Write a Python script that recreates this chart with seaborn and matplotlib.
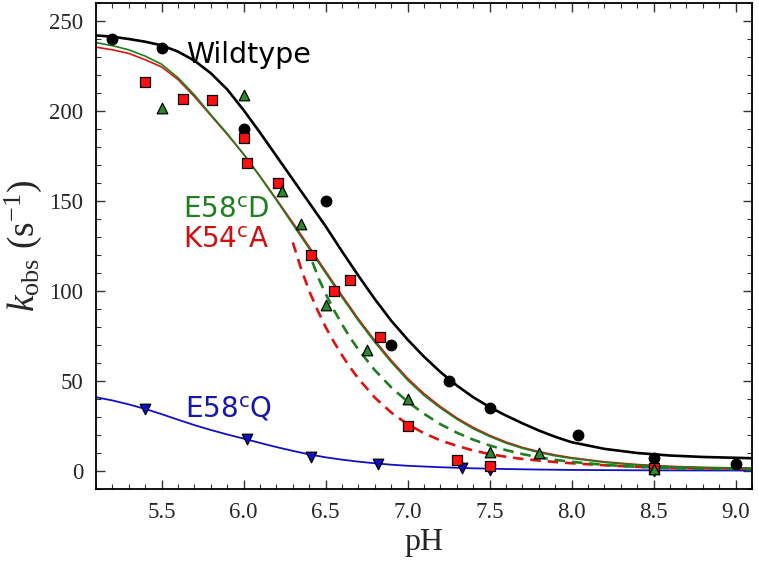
import pandas as pd
import matplotlib
matplotlib.use("Agg")
import matplotlib.pyplot as plt
import seaborn as sns
from matplotlib.ticker import MultipleLocator

# measured rate constants (pH, k_obs in s^-1)
wt_ph = [5.2, 5.5, 6.0, 6.5, 6.9, 7.25, 7.5, 8.04, 8.5, 9.0]
wt_k = [240, 235, 190, 150, 70, 50, 35, 20, 7, 4]

k54a_ph = [5.4, 5.63, 5.81, 6.0, 6.02, 6.21, 6.41, 6.55, 6.65, 6.83, 7.0, 7.3, 7.5, 8.5]
k54a_k = [216, 206.5, 206, 185, 171, 160, 120, 100, 106, 74.5, 25, 6, 3, 1.5]

e58d_ph = [5.5, 6.0, 6.235, 6.35, 6.5, 6.75, 7.0, 7.5, 7.8, 8.5]
e58d_k = [201.5, 209, 155.5, 137, 92.5, 67, 40, 10.5, 10, 1]

e58q_ph = [5.4, 6.02, 6.41, 6.82, 7.33, 7.5, 8.5]
e58q_k = [34.5, 18, 8, 4, 1.5, 0.5, 0]

# fitted curves
fit_ph = [5.1, 5.2, 5.3, 5.4, 5.5, 5.6, 5.7, 5.8, 5.9, 6.0,
          6.1, 6.2, 6.3, 6.4, 6.5, 6.6, 6.7, 6.8, 6.9, 7.0,
          7.1, 7.2, 7.3, 7.4, 7.5, 7.6, 7.7, 7.8, 7.9, 8.0,
          8.2, 8.4, 8.6, 8.8, 9.1]
wt_fit = [242, 241.3, 240, 238.5, 236.5, 233, 228, 221, 212, 200.5,
          188, 175, 162, 149, 136, 122, 108.5, 95.5, 83.5, 73,
          63.5, 55, 47.5, 41, 35.5, 30.8, 26.5, 22.5, 19, 16,
          12.3, 10, 8.6, 7.8, 7.1]
e58d_fit = [238, 236.3, 234, 230.5, 226, 218.5, 209, 198, 187.5, 176,
            163.5, 150.5, 137, 123.5, 110, 96.5, 83.5, 71.5, 60.5, 50.5,
            42, 35, 28.8, 23.5, 19.2, 15.5, 12.6, 10.3, 8.4, 7,
            4.8, 3.3, 2.4, 1.9, 1.5]
k54a_fit = [235.5, 234, 232, 228.5, 224.5, 217.5, 208, 197.5, 187, 176,
            163.8, 151, 138, 124.5, 111, 97.5, 84.5, 72.5, 61.5, 51.5,
            43, 35.8, 29.5, 24.2, 19.8, 16.1, 13.1, 10.8, 8.9, 7.4,
            5.1, 3.6, 2.6, 2.0, 1.6]
e58q_fit = [41, 39.2, 37, 34.5, 31.6, 28.5, 25.5, 22.8, 20.3, 18,
            15.6, 13.3, 11.2, 9.2, 7.6, 6.3, 5.2, 4.3, 3.5, 2.9,
            2.5, 2.1, 1.8, 1.5, 1.3, 1.1, 0.95, 0.8, 0.7, 0.6,
            0.5, 0.4, 0.35, 0.3, 0.25]

k54a_dash_ph = [6.3, 6.35, 6.4, 6.45, 6.5, 6.55, 6.6, 6.65, 6.7, 6.8, 6.9,
                7.0, 7.1, 7.2, 7.3, 7.4, 7.5, 7.6, 7.7, 7.8, 7.9, 8.0,
                8.2, 8.4, 8.6, 8.8, 9.1]
k54a_dash = [127, 112.5, 100, 89.5, 80, 71.8, 64.3, 57.5, 51.3, 40.8, 32.5,
             26, 21, 17, 14, 11.4, 9.4, 7.9, 6.7, 5.8, 5, 4.3,
             3.2, 2.3, 1.8, 1.5, 1.3]
e58d_dash_ph = [6.42, 6.46, 6.5, 6.55, 6.6, 6.65, 6.7, 6.8, 6.9,
                7.0, 7.1, 7.2, 7.3, 7.4, 7.5, 7.6, 7.7, 7.8, 7.9, 8.0,
                8.2, 8.4, 8.6, 8.8, 9.1]
e58d_dash = [116, 106.5, 98.5, 89.5, 81.5, 74, 67.5, 56, 46.5,
             38.5, 31.8, 26, 21.3, 17.4, 14.2, 11.6, 9.4, 7.6, 6.2, 5.1,
             3.4, 2.3, 1.6, 1.2, 1.0]

BLACK = "black"
GREEN = "#1d7f1d"
RED = "#e01010"
BLUE = "#1010c8"


def curve(ax, x, y, color, lw, dash=None):
    sns.lineplot(x=x, y=y, ax=ax, color=color, linewidth=lw, estimator=None,
                 sort=True, zorder=2)
    if dash is not None:
        ax.lines[-1].set_dashes(dash)


def points(ax, x, y, marker, color, s):
    sns.scatterplot(x=x, y=y, ax=ax, marker=marker, color=color, s=s,
                    edgecolor="black", linewidth=0.9, zorder=5)


def main():
    sns.set_theme(style="ticks")
    plt.rcParams["font.family"] = ["DejaVu Sans"]
    plt.rcParams["mathtext.fontset"] = "custom"
    plt.rcParams["mathtext.rm"] = "Liberation Serif"
    plt.rcParams["mathtext.it"] = "Liberation Serif:italic"
    plt.rcParams["mathtext.sf"] = "DejaVu Sans"

    fig = plt.figure(figsize=(7.59, 5.70), dpi=100)
    ax = fig.add_axes([0.1265, 0.1421, 0.8643, 0.8526])

    curve(ax, fit_ph, e58q_fit, BLUE, 1.3)
    curve(ax, k54a_dash_ph, k54a_dash, RED, 1.9, dash=(4, 2.6))
    curve(ax, e58d_dash_ph, e58d_dash, GREEN, 1.9, dash=(4, 2.6))
    curve(ax, fit_ph, k54a_fit, RED, 1.2)
    curve(ax, fit_ph, e58d_fit, GREEN, 1.2)
    curve(ax, fit_ph, wt_fit, BLACK, 1.9)

    points(ax, e58q_ph, e58q_k, "v", BLUE, 58)
    points(ax, wt_ph, wt_k, "o", BLACK, 58)
    points(ax, k54a_ph, k54a_k, "s", "#ff1010", 52)
    points(ax, e58d_ph, e58d_k, "^", "#2a8a2a", 58)

    ax.set_xlim(5.1, 9.1)
    ax.set_ylim(-10, 260)
    ax.xaxis.set_minor_locator(MultipleLocator(0.1))
    ax.yaxis.set_major_locator(MultipleLocator(50))
    ax.yaxis.set_minor_locator(MultipleLocator(10))
    ax.set_xticks([5.5, 6.0, 6.5, 7.0, 7.5, 8.0, 8.5, 9.0])
    ax.set_xticklabels(["5.5", "6.0", "6.5", "7.0", "7.5", "8.0", "8.5", "9.0"])

    ax.tick_params(which="both", direction="in", top=True, right=True,
                   color="#333333")
    ax.tick_params(which="major", length=6.5, width=1.0, labelsize=16.5, pad=9)
    ax.tick_params(which="minor", length=3.5, width=0.8)
    for lab in ax.get_xticklabels() + ax.get_yticklabels():
        lab.set_fontfamily("Liberation Serif")
    for sp in ax.spines.values():
        sp.set_linewidth(1.3)
        sp.set_color("black")

    ax.set_xlabel("pH", fontsize=23, family="Liberation Serif", labelpad=4)
    ax.set_ylabel(r"$k_{\mathrm{obs}}$ (s$^{-1}$)", fontsize=27,
                  family="Liberation Serif", labelpad=4)

    ax.text(5.647, 226.8, "Wildtype", color="black", fontsize=20.5)
    ax.text(5.632, 141.3, r"E58$^{\mathsf{c}}$D", color=GREEN, fontsize=20)
    ax.text(5.632, 124.6, r"K54$^{\mathsf{c}}$A", color="#d01010", fontsize=20)
    ax.text(5.64, 30.2, r"E58$^{\mathsf{c}}$Q", color="#1515b0", fontsize=20)

    fig.savefig("out.png", dpi=100)


if __name__ == "__main__":
    main()
